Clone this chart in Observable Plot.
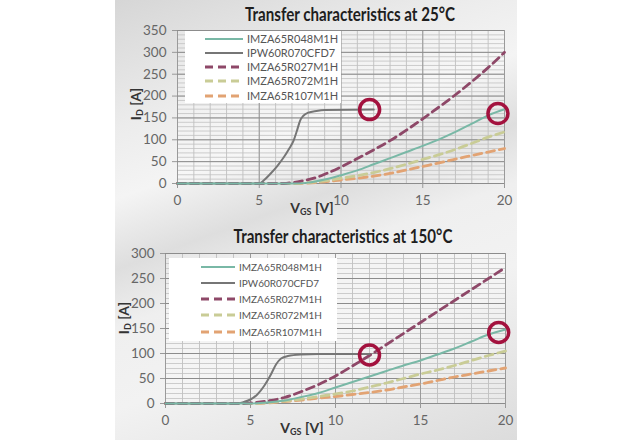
<!DOCTYPE html>
<html>
<head>
<meta charset="utf-8">
<script src="https://cdn.jsdelivr.net/npm/d3@7"></script>
<script src="https://cdn.jsdelivr.net/npm/@observablehq/plot@0.6"></script>
<style>
  html, body { margin: 0; padding: 0; background: #fff; width: 630px; height: 440px; overflow: hidden; }
  #panel { position: absolute; left: 115px; top: 0; width: 402px; height: 440px;
    background: linear-gradient(160deg, #d6d6d6 0%, #ececec 22%, #f4f4f4 34%, #dedede 46%, #efefef 56%, #f2f2f2 70%, #dcdcdc 100%);
    font-family: Lato, "Open Sans", sans-serif; }
  .chart { position: absolute; left: 0; }
  .title { position: absolute; font-weight: bold; font-size: 18px; color: #1e1e1e; white-space: nowrap; transform: translateX(-50%) scaleX(0.84); transform-origin: center; }
  .xlabel { position: absolute; font-weight: bold; font-size: 14px; color: #333; white-space: nowrap; transform: translateX(-50%); }
  .ylabel { position: absolute; font-weight: bold; font-size: 14px; color: #333; white-space: nowrap; transform: translate(-50%, -50%) rotate(-90deg); }
  sub { font-size: 9px; vertical-align: -2px; }
  .legend { position: absolute; background: #fff; }
  .legend .row { position: absolute; left: 0; display: flex; align-items: center; font-size: 11px; color: #555; }
  .legend svg { display: block; margin-right: 4px; }
</style>
</head>
<body>
<div id="panel"></div>
<script>
// ---------- DATA: 25 °C ----------
const series = ["IMZA65R048M1H", "IPW60R070CFD7", "IMZA65R027M1H", "IMZA65R072M1H", "IMZA65R107M1H"];
const colors = ["#79b8a6", "#767676", "#8e4868", "#c9cc96", "#e2a373"];
const dashed = [false, false, true, true, true];

const t25_048_v = [0, 5, 7, 8, 9, 10, 11, 12, 13, 14, 15, 16, 17, 18, 19, 20];
const t25_048_i = [0, 0, 0, 2, 9, 19, 30, 44, 58, 72, 86, 101, 118, 137, 156, 170];
const t25_070_v = [0, 5, 5.3, 5.7, 6.1, 6.5, 6.8, 7.1, 7.3, 7.5, 7.7, 8, 8.5, 9, 12];
const t25_070_i = [0, 0, 8, 23, 40, 60, 78, 98, 120, 144, 155, 162, 166, 168, 169];
const t25_027_v = [0, 6.5, 7, 7.5, 8, 8.5, 9, 10, 11, 12, 13, 14, 15, 16, 17, 18, 19, 20];
const t25_027_i = [0, 0, 2, 5, 9, 14, 21, 38, 57, 77, 98, 122, 148, 175, 203, 233, 265, 300];
const t25_072_v = [0, 7, 8, 9, 10, 11, 12, 13, 14, 15, 16, 17, 18, 19, 20];
const t25_072_i = [0, 0, 2, 6, 12, 18, 25, 34, 44, 55, 66, 78, 92, 106, 118];
const t25_107_v = [0, 7, 8, 9, 10, 11, 12, 13, 14, 15, 16, 17, 18, 19, 20];
const t25_107_i = [0, 0, 1, 4, 8, 12, 17, 23, 31, 39, 47, 56, 64, 72, 80];
const t25_circle_v = [11.75, 19.6];
const t25_circle_i = [169, 160];

// ---------- DATA: 150 °C ----------
const t150_048_v = [0, 5, 6, 7, 8, 9, 10, 11, 12, 13, 14, 15, 16, 17, 18, 19, 20];
const t150_048_i = [0, 0, 2, 6, 13, 21, 32, 43, 54, 65, 76, 86, 98, 110, 124, 138, 148];
const t150_070_v = [0, 4.2, 4.6, 5, 5.4, 5.8, 6.2, 6.5, 6.8, 7.2, 8, 9, 12];
const t150_070_i = [0, 0, 3, 8, 18, 35, 58, 78, 90, 95, 98, 99, 99];
const t150_027_v = [0, 4.5, 5, 6, 7, 8, 9, 10, 11, 12, 13, 14, 15, 16, 17, 18, 19, 20];
const t150_027_i = [0, 0, 1, 5, 12, 24, 38, 55, 75, 96, 118, 140, 162, 184, 206, 228, 250, 272];
const t150_072_v = [0, 5, 6, 7, 8, 9, 10, 11, 12, 13, 14, 15, 16, 17, 18, 19, 20];
const t150_072_i = [0, 0, 2, 5, 9, 14, 19, 25, 33, 41, 50, 59, 67, 76, 86, 96, 105];
const t150_107_v = [0, 5, 6, 7, 8, 9, 10, 11, 12, 13, 14, 15, 16, 17, 18, 19, 20];
const t150_107_i = [0, 0, 1, 4, 7, 11, 14, 18, 22, 27, 33, 39, 46, 53, 59, 65, 71];
const t150_circle_v = [12.0, 19.6];
const t150_circle_i = [97, 142];

const xTicks = [0, 5, 10, 15, 20];

function toRows(vs, is) { return vs.map((v, k) => ({v, i: is[k]})); }

function makeChart(cfg) {
  const lines = cfg.data.map((d, k) => Plot.line(toRows(d[0], d[1]), {
    x: "v", y: "i", stroke: colors[k], strokeWidth: dashed[k] ? 2.8 : 2,
    strokeDasharray: dashed[k] ? "8,5" : null, curve: "monotone-x"
  }));
  const order = [4, 3, 2, 1, 0];
  return Plot.plot({
    width: 402, height: cfg.height,
    marginLeft: cfg.ml, marginRight: cfg.mr, marginTop: 8, marginBottom: cfg.mb,
    style: {fontFamily: "Lato, 'Open Sans', sans-serif", fontSize: "13.5px", color: "#666", background: "transparent", overflow: "visible"},
    x: {domain: [0, 20]},
    y: {domain: [0, cfg.ymax]},
    marks: [
      Plot.frame({fill: "rgba(255,255,255,0.25)", stroke: null}),
      Plot.gridX({ticks: d3.range(0, 21, 1), stroke: "#b9b9b9", strokeOpacity: 1, strokeWidth: 0.8}),
      Plot.gridY({ticks: d3.range(0, cfg.ymax + 1, 10), stroke: "#c2c2c2", strokeOpacity: 1, strokeWidth: 0.8}),
      Plot.gridX({ticks: xTicks, stroke: "#9a9a9a", strokeOpacity: 1, strokeWidth: 1}),
      Plot.gridY({ticks: d3.range(0, cfg.ymax + 1, 50), stroke: "#8c8c8c", strokeOpacity: 1, strokeWidth: 1}),
      Plot.axisX({ticks: xTicks, tickSize: 5, tickPadding: 7, label: null, stroke: "#999", fill: "#666"}),
      Plot.axisY({ticks: d3.range(0, cfg.ymax + 1, 50), tickSize: 5, tickPadding: 6, label: null, stroke: "#999", fill: "#666"}),
      ...order.map(k => lines[k]),
      Plot.dot(toRows(cfg.circle[0], cfg.circle[1]), {x: "v", y: "i", r: 10, stroke: "#a3123e", strokeWidth: 3.5, fill: "none"})
    ]
  });
}

function legend(parent, left, top, width, height, rowTops, lineW, fontSize) {
  const box = document.createElement("div");
  box.className = "legend";
  Object.assign(box.style, {left: left + "px", top: top + "px", width: width + "px", height: height + "px"});
  series.forEach((name, k) => {
    const row = document.createElement("div");
    row.className = "row";
    row.style.top = rowTops[k] + "px";
    row.style.left = (lineW[0]) + "px";
    row.style.fontSize = fontSize + "px";
    row.innerHTML = `<svg width="${lineW[1]}" height="6"><line x1="0" y1="3" x2="${lineW[1]}" y2="3" stroke="${colors[k]}" stroke-width="${dashed[k] ? 2.8 : 2}" ${dashed[k] ? 'stroke-dasharray="8,5"' : ''}/></svg><span>${name}</span>`;
    box.appendChild(row);
  });
  parent.appendChild(box);
}

const panel = document.getElementById("panel");

const c1 = makeChart({height: 186, ml: 62, mr: 13, mb: 25, ymax: 350,
  data: [[t25_048_v, t25_048_i], [t25_070_v, t25_070_i], [t25_027_v, t25_027_i], [t25_072_v, t25_072_i], [t25_107_v, t25_107_i]],
  circle: [t25_circle_v, t25_circle_i]});
c1.classList.add("chart"); c1.style.top = "22px";
panel.appendChild(c1);

const c2 = makeChart({height: 183, ml: 50, mr: 12, mb: 25, ymax: 300,
  data: [[t150_048_v, t150_048_i], [t150_070_v, t150_070_i], [t150_027_v, t150_027_i], [t150_072_v, t150_072_i], [t150_107_v, t150_107_i]],
  circle: [t150_circle_v, t150_circle_i]});
c2.classList.add("chart"); c2.style.top = "245px";
panel.appendChild(c2);

function addText(cls, html, x, y) {
  const d = document.createElement("div");
  d.className = cls; d.innerHTML = html;
  d.style.left = x + "px"; d.style.top = y + "px";
  panel.appendChild(d);
}
addText("title", "Transfer characteristics at 25°C", 235, 3);
addText("title", "Transfer characteristics at 150°C", 228, 225);
addText("xlabel", "V<sub>GS</sub> [V]", 197, 199);
addText("xlabel", "V<sub>GS</sub> [V]", 187, 419);
addText("ylabel", "I<sub>D</sub> [A]", 21, 104);
addText("ylabel", "I<sub>D</sub> [A]", 9, 318);

legend(panel, 70, 31, 156, 72, [1, 15, 29, 43, 58], [20, 38], 11);
legend(panel, 54, 258, 168, 83, [3, 19, 35, 51, 68], [32, 34], 10);
</script>
</body>
</html>
